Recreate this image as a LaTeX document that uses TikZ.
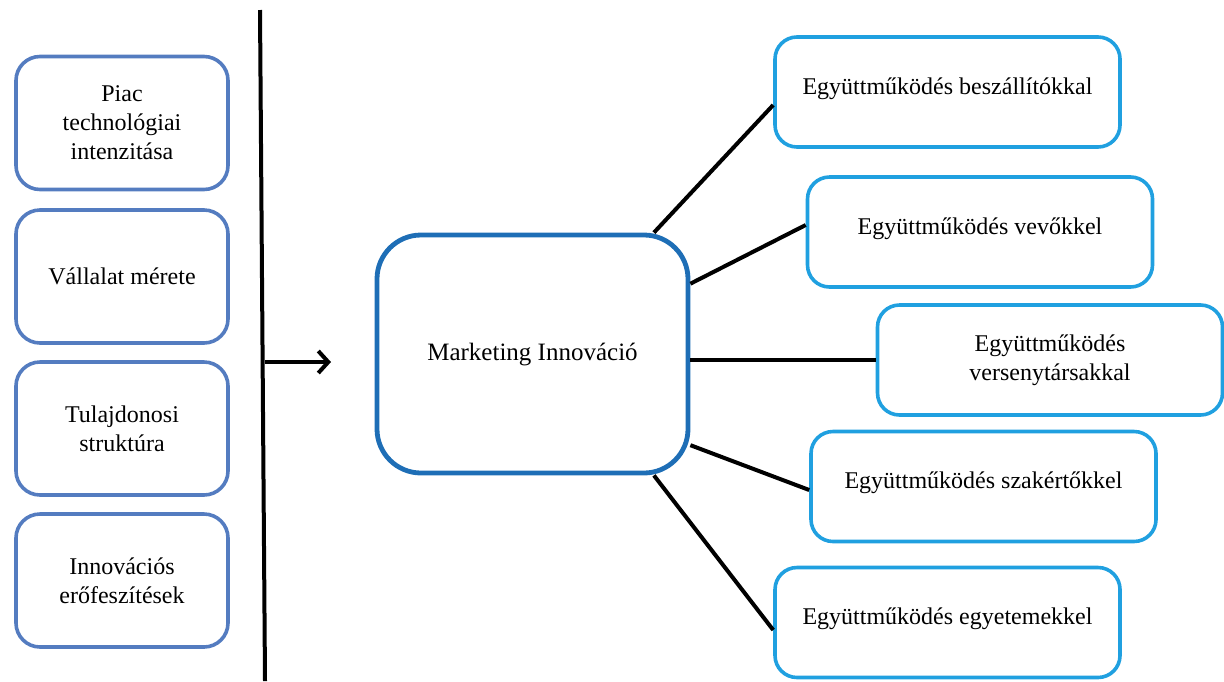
\documentclass[tikz,border=0pt]{standalone}
\usepackage{fontspec}
\setmainfont{Liberation Serif}
\usetikzlibrary{arrows.meta}

\definecolor{leftblue}{RGB}{84,124,192}
\definecolor{midblue}{RGB}{30,110,182}
\definecolor{rightblue}{RGB}{32,160,224}

\tikzset{
  factorbox/.style={draw=leftblue, line width=1.8pt, rounded corners=12pt,
    minimum width=106pt, minimum height=66.5pt, align=center,
    font=\fontsize{12}{14.5}\selectfont, inner sep=2pt},
  corebox/.style={draw=midblue, line width=2.4pt, rounded corners=22pt,
    minimum width=155.5pt, minimum height=119pt, align=center,
    font=\fontsize{12.5}{15}\selectfont},
  partnerbox/.style={draw=rightblue, line width=1.8pt, rounded corners=11pt,
    minimum width=172.5pt, minimum height=55pt, align=center,
    font=\fontsize{12}{14.5}\selectfont},
  oneline/.style={text height=8pt, text depth=6pt},
  link/.style={line width=2pt, black},
}

\begin{document}
\begin{tikzpicture}[x=0.5pt, y=-0.5pt]
  \useasboundingbox (0,0) rectangle (1224,681);

  % influencing factors
  \node[factorbox] (f1) at (122,123)   {Piac\\technológiai\\intenzitása};
  \node[factorbox] (f2) at (122,276.5) {Vállalat mérete};
  \node[factorbox] (f3) at (122,428.5) {Tulajdonosi\\struktúra};
  \node[factorbox] (f4) at (122,580.5) {Innovációs\\erőfeszítések};

  % separator and arrow
  \coordinate (sepTop) at (260,10);
  \coordinate (sepBot) at (265,681);
  \draw[link] (sepTop) -- (sepBot);
  \coordinate (arrTail) at (265,362);
  \coordinate (arrHead) at (331,362);
  \draw[link, -{Straight Barb[length=5pt,width=11pt]}] (arrTail) -- (arrHead);

  % central concept
  \node[corebox] (mi) at (532.5,354) {Marketing Innováció};

  % cooperation partners
  \node[partnerbox, oneline] (r1) at (947.5,92)   {Együttműködés beszállítókkal};
  \node[partnerbox, oneline] (r2) at (980,232)    {Együttműködés vevőkkel};
  \node[partnerbox]          (r3) at (1050,360)   {Együttműködés\\versenytársakkal};
  \node[partnerbox, oneline] (r4) at (983.5,486.5){Együttműködés szakértőkkel};
  \node[partnerbox, oneline] (r5) at (947.5,622.5){Együttműködés egyetemekkel};

  % connectors
  \draw[link] (mi.45)    -- ([yshift=-6.5pt]r1.west);
  \draw[link] (mi.24.5)  -- ([yshift=3.5pt]r2.west);
  \draw[link] (mi.east |- r3.west) -- (r3.west);
  \draw[link] (mi.-30.6) -- ([yshift=-1.75pt]r4.west);
  \draw[link] (mi.-45)   -- ([yshift=-3.75pt]r5.west);
\end{tikzpicture}
\end{document}
